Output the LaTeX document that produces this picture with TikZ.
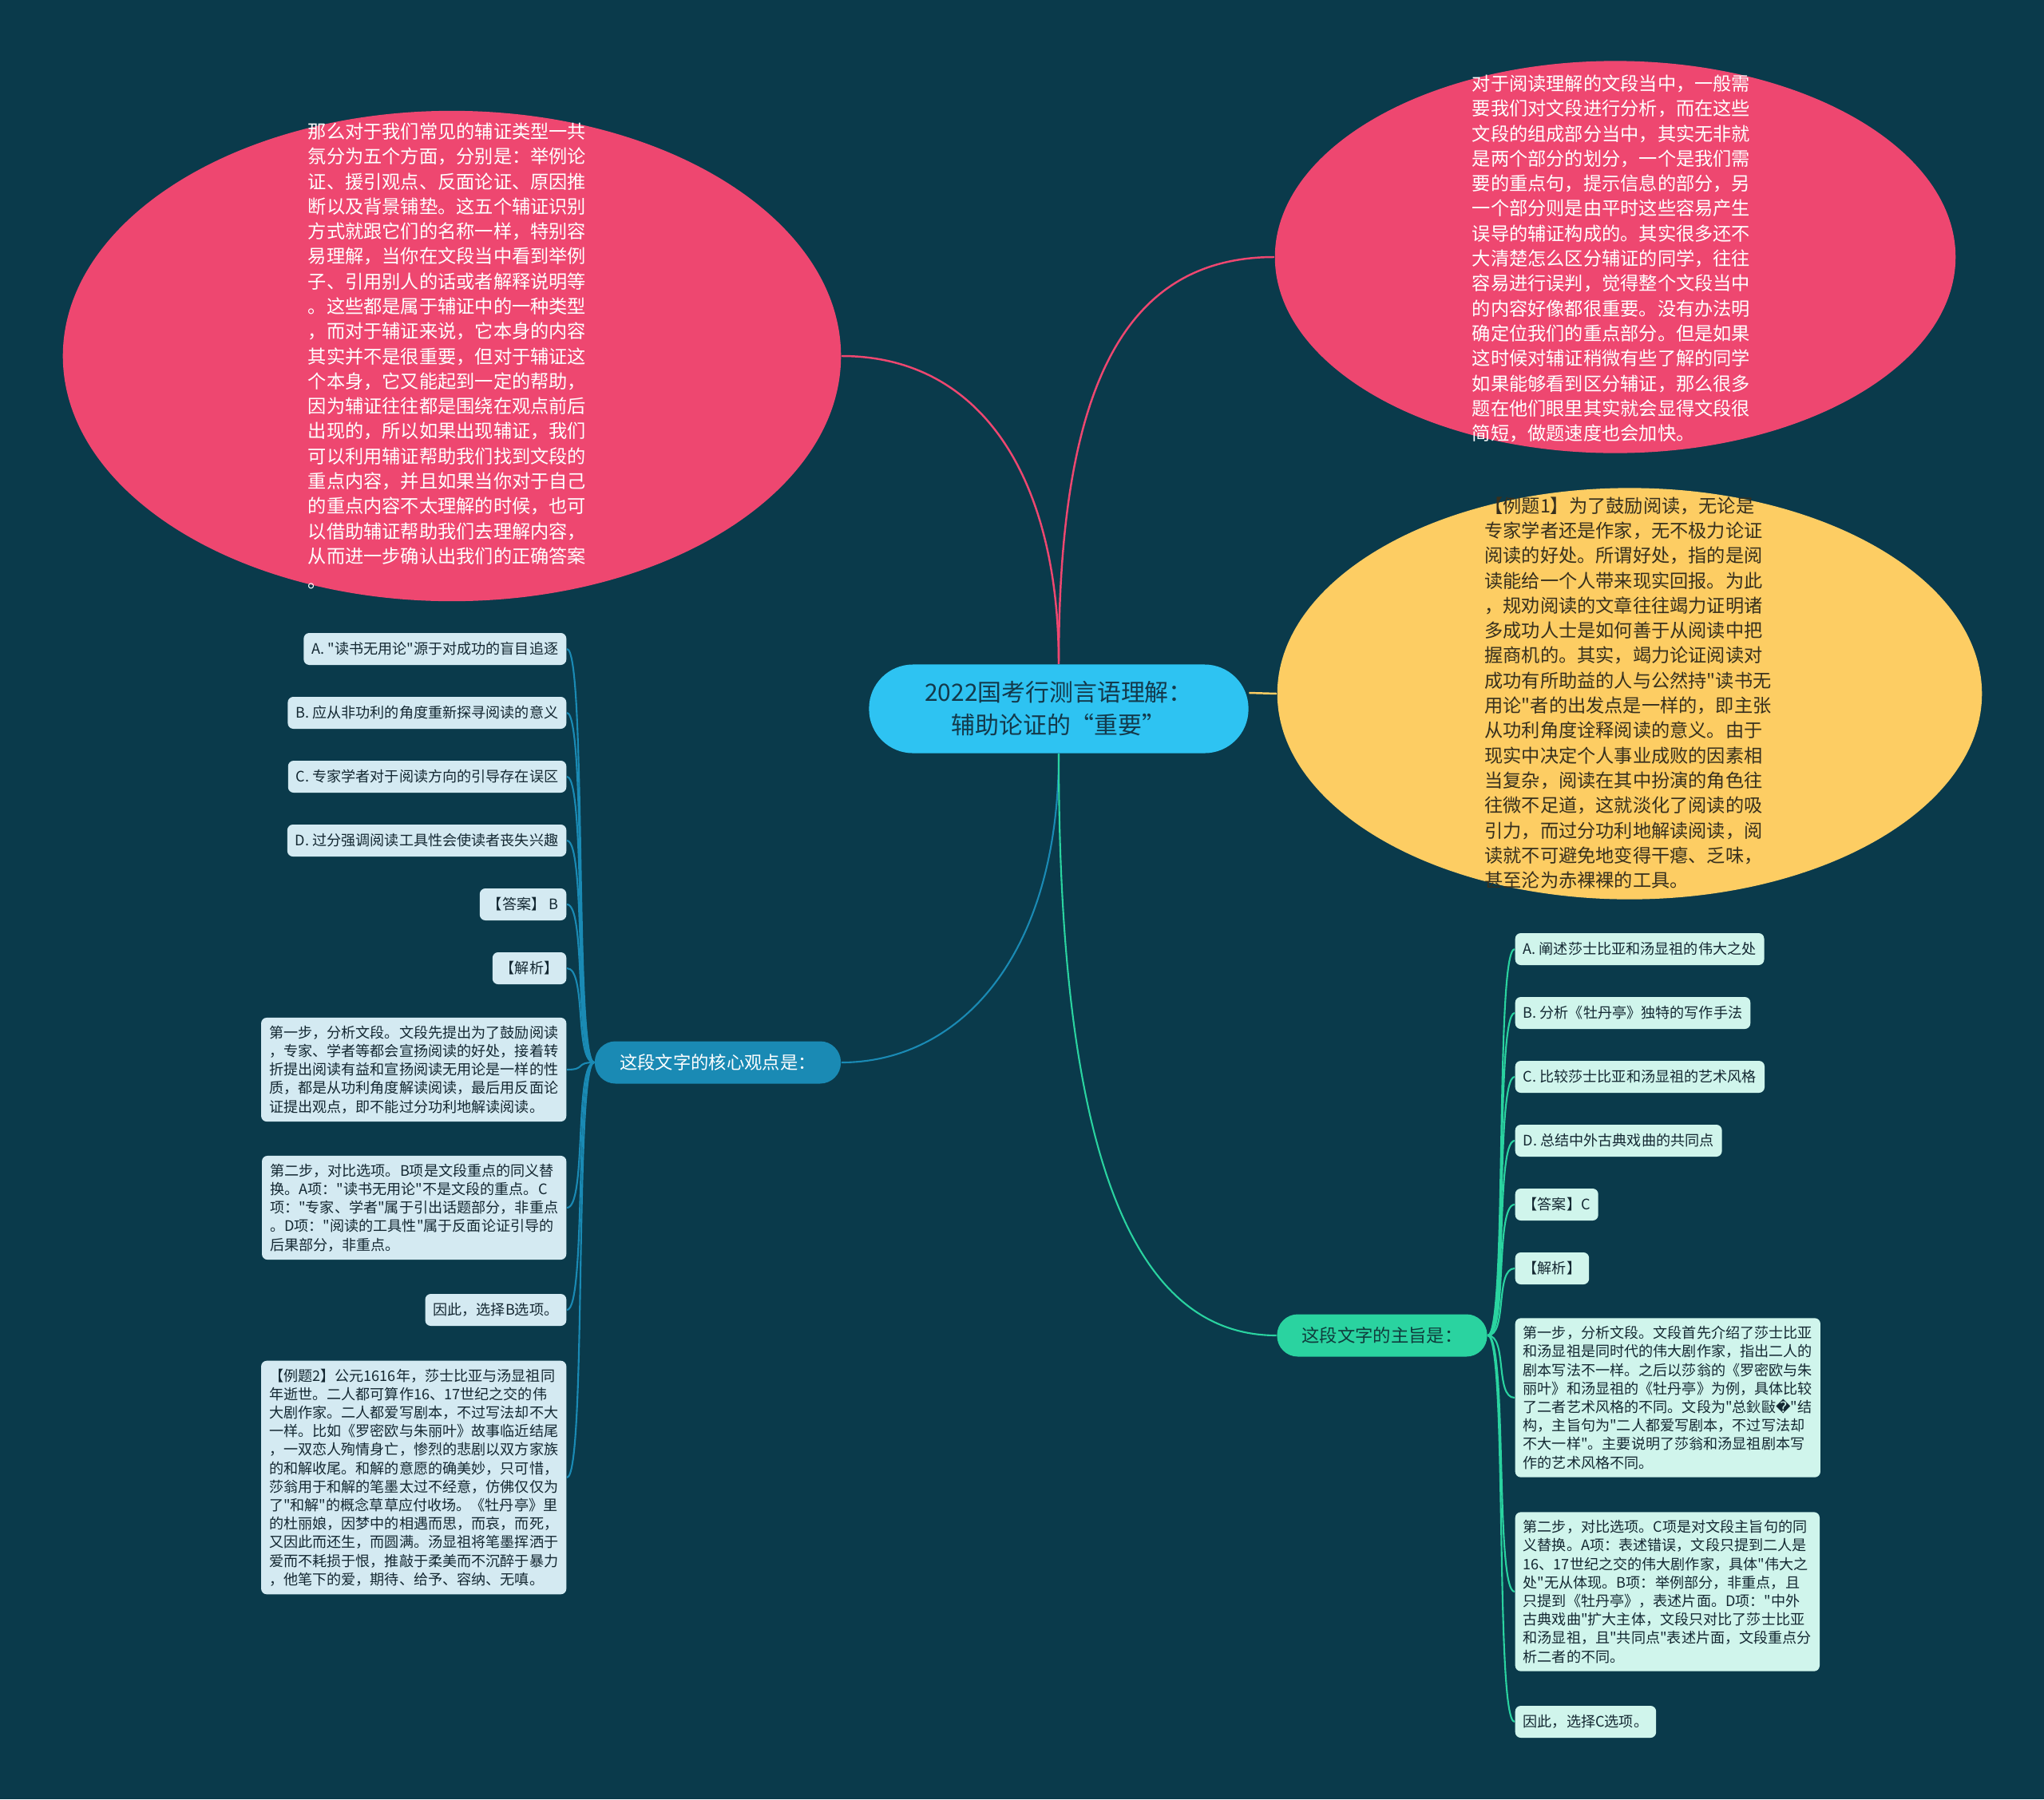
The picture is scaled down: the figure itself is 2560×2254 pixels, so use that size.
\documentclass[tikz,border=0pt]{standalone}
\usepackage{fontspec}
\setmainfont{Noto Sans CJK SC}[Ligatures=TeXOff]
\newfontfamily\symfont{DejaVu Sans}
\usepackage{tikz}
\usetikzlibrary{shapes.geometric}
\definecolor{mapbg}{RGB}{10,58,75}
\definecolor{mappink}{RGB}{238,71,112}
\definecolor{mapyellow}{RGB}{253,205,99}
\definecolor{maproot}{RGB}{46,195,242}
\definecolor{mapink}{RGB}{19,57,75}
\definecolor{yellowink}{RGB}{55,48,30}
\definecolor{corefill}{RGB}{26,138,180}
\definecolor{coreleaffill}{RGB}{212,234,242}
\definecolor{themefill}{RGB}{42,211,160}
\definecolor{themeleaffill}{RGB}{208,245,236}
\definecolor{themeink}{RGB}{15,60,60}
\definecolor{leafink}{RGB}{20,40,50}

\begin{document}
\begin{tikzpicture}[x=0.01cm, y=-0.01cm,
    blob/.style={ellipse, inner sep=0pt},
    blobtext/.style={align=left, inner sep=0pt, font=\fontsize{6.6pt}{8.9pt}\selectfont},
    rootnode/.style={rectangle, rounded corners=0.55cm, minimum width=4.75cm, minimum height=1.11cm,
      fill=maproot, text=mapink, align=center, font=\fontsize{8.5pt}{11.7pt}\selectfont},
    branchnode/.style={rectangle, rounded corners=0.26cm, minimum height=0.53cm,
      font=\fontsize{6.35pt}{8pt}\selectfont},
    leafnode/.style={rectangle, rounded corners=0.07cm, inner xsep=0.1cm, inner ysep=0.1cm,
      minimum height=0.4cm, align=left, text=leafink, font=\fontsize{5.15pt}{6.6pt}\selectfont},
    coreleaf/.style={leafnode, fill=coreleaffill, anchor=east},
    themeleaf/.style={leafnode, fill=themeleaffill, anchor=west},
    pinklink/.style={draw=mappink, line width=0.7pt},
    corelink/.style={draw=corefill, line width=0.6pt},
    themelink/.style={draw=themefill, line width=0.6pt}
  ]
    \fill[mapbg] (0,0) rectangle (2560,2254);

    % Root
    \node[rootnode] (root) at (1326,888) {2022国考行测言语理解：\\辅助论证的“重要”};

    % Big blobs
    \node[blob, fill=mappink, minimum width=9.74cm, minimum height=6.14cm] (tlblob) at (566,446) {};
    \node[blobtext, text=white] (tltext) at (560,446) {
      那么对于我们常见的辅证类型一共\\
      氛分为五个方面，分别是：举例论\\
      证、援引观点、反面论证、原因推\\
      断以及背景铺垫。这五个辅证识别\\
      方式就跟它们的名称一样，特别容\\
      易理解，当你在文段当中看到举例\\
      子、引用别人的话或者解释说明等\\
      。这些都是属于辅证中的一种类型\\
      ，而对于辅证来说，它本身的内容\\
      其实并不是很重要，但对于辅证这\\
      个本身，它又能起到一定的帮助，\\
      因为辅证往往都是围绕在观点前后\\
      出现的，所以如果出现辅证，我们\\
      可以利用辅证帮助我们找到文段的\\
      重点内容，并且如果当你对于自己\\
      的重点内容不太理解的时候，也可\\
      以借助辅证帮助我们去理解内容，\\
      从而进一步确认出我们的正确答案\\
      。};
    \node[blob, fill=mappink, minimum width=8.52cm, minimum height=4.91cm] (trblob) at (2023,322) {};
    \node[blobtext, text=white] (trtext) at (2018,324) {
      对于阅读理解的文段当中，一般需\\
      要我们对文段进行分析，而在这些\\
      文段的组成部分当中，其实无非就\\
      是两个部分的划分，一个是我们需\\
      要的重点句，提示信息的部分，另\\
      一个部分则是由平时这些容易产生\\
      误导的辅证构成的。其实很多还不\\
      大清楚怎么区分辅证的同学，往往\\
      容易进行误判，觉得整个文段当中\\
      的内容好像都很重要。没有办法明\\
      确定位我们的重点部分。但是如果\\
      这时候对辅证稍微有些了解的同学\\
      如果能够看到区分辅证，那么很多\\
      题在他们眼里其实就会显得文段很\\
      简短，做题速度也会加快。};
    \node[blob, fill=mapyellow, minimum width=8.82cm, minimum height=5.15cm] (ylblob) at (2041,869) {};
    \node[blobtext, text=yellowink] (yltext) at (2039,868) {
      【例题1】为了鼓励阅读，无论是\\
      专家学者还是作家，无不极力论证\\
      阅读的好处。所谓好处，指的是阅\\
      读能给一个人带来现实回报。为此\\
      ，规劝阅读的文章往往竭力证明诸\\
      多成功人士是如何善于从阅读中把\\
      握商机的。其实，竭力论证阅读对\\
      成功有所助益的人与公然持"读书无\\
      用论"者的出发点是一样的，即主张\\
      从功利角度诠释阅读的意义。由于\\
      现实中决定个人事业成败的因素相\\
      当复杂，阅读在其中扮演的角色往\\
      往微不足道，这就淡化了阅读的吸\\
      引力，而过分功利地解读阅读，阅\\
      读就不可避免地变得干瘪、乏味，\\
      甚至沦为赤裸裸的工具。};

    % Branches
    \node[branchnode, fill=corefill, text=white, minimum width=3.08cm] (core) at (899,1331) {这段文字的核心观点是：};
    \node[branchnode, fill=themefill, text=themeink, minimum width=2.63cm] (theme) at (1731,1673) {这段文字的主旨是：};

    % Left leaves
    \node[coreleaf] (coreA) at (710,813) {A. "读书无用论"源于对成功的盲目追逐};
    \node[coreleaf] (coreB) at (710,893) {B. 应从非功利的角度重新探寻阅读的意义};
    \node[coreleaf] (coreC) at (710,973) {C. 专家学者对于阅读方向的引导存在误区};
    \node[coreleaf] (coreD) at (710,1053) {D. 过分强调阅读工具性会使读者丧失兴趣};
    \node[coreleaf] (coreAns) at (710,1133) {【答案】 B};
    \node[coreleaf] (coreJx) at (710,1213) {【解析】};
    \node[coreleaf] (coreS1) at (710,1340) {
      第一步，分析文段。文段先提出为了鼓励阅读\\
      ，专家、学者等都会宣扬阅读的好处，接着转\\
      折提出阅读有益和宣扬阅读无用论是一样的性\\
      质，都是从功利角度解读阅读，最后用反面论\\
      证提出观点，即不能过分功利地解读阅读。};
    \node[coreleaf] (coreS2) at (710,1513) {
      第二步，对比选项。B项是文段重点的同义替\\
      换。A项："读书无用论"不是文段的重点。C\\
      项："专家、学者"属于引出话题部分，非重点\\
      。D项："阅读的工具性"属于反面论证引导的\\
      后果部分，非重点。};
    \node[coreleaf] (coreSo) at (710,1641) {因此，选择B选项。};
    \node[coreleaf] (coreEx) at (710,1851) {
      【例题2】公元1616年，莎士比亚与汤显祖同\\
      年逝世。二人都可算作16、17世纪之交的伟\\
      大剧作家。二人都爱写剧本，不过写法却不大\\
      一样。比如《罗密欧与朱丽叶》故事临近结尾\\
      ，一双恋人殉情身亡，惨烈的悲剧以双方家族\\
      的和解收尾。和解的意愿的确美妙，只可惜，\\
      莎翁用于和解的笔墨太过不经意，仿佛仅仅为\\
      了"和解"的概念草草应付收场。《牡丹亭》里\\
      的杜丽娘，因梦中的相遇而思，而哀，而死，\\
      又因此而还生，而圆满。汤显祖将笔墨挥洒于\\
      爱而不耗损于恨，推敲于柔美而不沉醉于暴力\\
      ，他笔下的爱，期待、给予、容纳、无嗔。};

    % Right leaves
    \node[themeleaf] (themeA) at (1897,1189) {A. 阐述莎士比亚和汤显祖的伟大之处};
    \node[themeleaf] (themeB) at (1897,1269) {B. 分析《牡丹亭》独特的写作手法};
    \node[themeleaf] (themeC) at (1897,1349) {C. 比较莎士比亚和汤显祖的艺术风格};
    \node[themeleaf] (themeD) at (1897,1429) {D. 总结中外古典戏曲的共同点};
    \node[themeleaf] (themeAns) at (1897,1509) {【答案】C};
    \node[themeleaf] (themeJx) at (1897,1589) {【解析】};
    \node[themeleaf] (themeS1) at (1897,1751) {
      第一步，分析文段。文段首先介绍了莎士比亚\\
      和汤显祖是同时代的伟大剧作家，指出二人的\\
      剧本写法不一样。之后以莎翁的《罗密欧与朱\\
      丽叶》和汤显祖的《牡丹亭》为例，具体比较\\
      了二者艺术风格的不同。文段为"总鈥敺{\symfont �}"结\\
      构，主旨句为"二人都爱写剧本，不过写法却\\
      不大一样"。主要说明了莎翁和汤显祖剧本写\\
      作的艺术风格不同。};
    \node[themeleaf] (themeS2) at (1897,1994) {
      第二步，对比选项。C项是对文段主旨句的同\\
      义替换。A项：表述错误，文段只提到二人是\\
      16、17世纪之交的伟大剧作家，具体"伟大之\\
      处"无从体现。B项：举例部分，非重点，且\\
      只提到《牡丹亭》，表述片面。D项："中外\\
      古典戏曲"扩大主体，文段只对比了莎士比亚\\
      和汤显祖，且"共同点"表述片面，文段重点分\\
      析二者的不同。};
    \node[themeleaf] (themeSo) at (1897,2157) {因此，选择C选项。};

    % Main links
    \draw[pinklink] (root.north) .. controls (1326,600) and (1230,446) .. (tlblob.east);
    \draw[pinklink] (root.north) .. controls (1326,500) and (1400,322) .. (trblob.west);
    \draw[draw=mapyellow, line width=0.7pt] ([yshift=0.2cm]root.east) -- (ylblob.west);
    \draw[corelink] (root.south) .. controls (1326,1200) and (1200,1331) .. (core.east);
    \draw[themelink] (root.south) .. controls (1326,1450) and (1420,1673) .. (theme.west);

    % Left leaf links
    \draw[corelink] (core.west) .. controls +(-25,0) and +(25,0) .. (coreA.east);
    \draw[corelink] (core.west) .. controls +(-25,0) and +(25,0) .. (coreB.east);
    \draw[corelink] (core.west) .. controls +(-25,0) and +(25,0) .. (coreC.east);
    \draw[corelink] (core.west) .. controls +(-25,0) and +(25,0) .. (coreD.east);
    \draw[corelink] (core.west) .. controls +(-25,0) and +(25,0) .. (coreAns.east);
    \draw[corelink] (core.west) .. controls +(-25,0) and +(25,0) .. (coreJx.east);
    \draw[corelink] (core.west) .. controls +(-25,0) and +(25,0) .. (coreS1.east);
    \draw[corelink] (core.west) .. controls +(-25,0) and +(25,0) .. (coreS2.east);
    \draw[corelink] (core.west) .. controls +(-25,0) and +(25,0) .. (coreSo.east);
    \draw[corelink] (core.west) .. controls +(-25,0) and +(25,0) .. (coreEx.east);

    % Right leaf links
    \draw[themelink] (theme.east) .. controls +(25,0) and +(-25,0) .. (themeA.west);
    \draw[themelink] (theme.east) .. controls +(25,0) and +(-25,0) .. (themeB.west);
    \draw[themelink] (theme.east) .. controls +(25,0) and +(-25,0) .. (themeC.west);
    \draw[themelink] (theme.east) .. controls +(25,0) and +(-25,0) .. (themeD.west);
    \draw[themelink] (theme.east) .. controls +(25,0) and +(-25,0) .. (themeAns.west);
    \draw[themelink] (theme.east) .. controls +(25,0) and +(-25,0) .. (themeJx.west);
    \draw[themelink] (theme.east) .. controls +(25,0) and +(-25,0) .. (themeS1.west);
    \draw[themelink] (theme.east) .. controls +(25,0) and +(-25,0) .. (themeS2.west);
    \draw[themelink] (theme.east) .. controls +(25,0) and +(-25,0) .. (themeSo.west);
  \end{tikzpicture}
\end{document}
